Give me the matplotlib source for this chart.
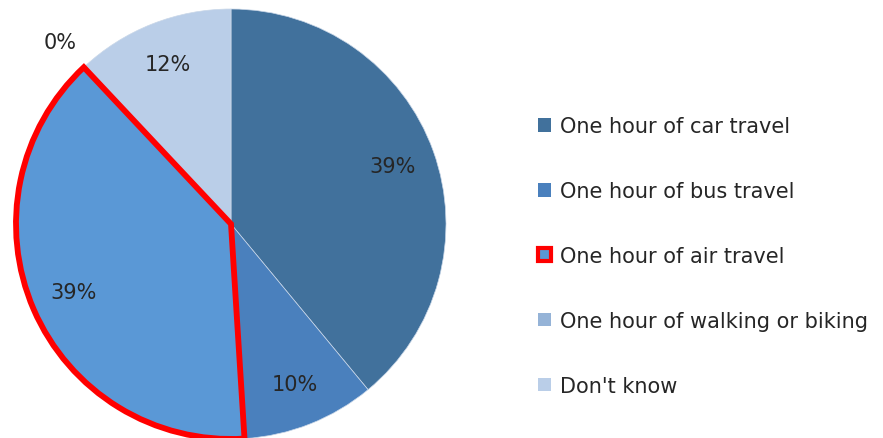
import numpy as np
import matplotlib.pyplot as plt
from matplotlib.patches import Patch

# travel-mode survey shares (%)
LABELS = ["One hour of car travel", "One hour of bus travel", "One hour of air travel",
          "One hour of walking or biking", "Don't know"]
SHARES = [39, 10, 39, 0, 12]
COLORS = ["#41719C", "#4A80BD", "#5A98D6", "#95B3D7", "#BACEE8"]
HIGHLIGHT = 2  # slice with the red outline
TEXT_COLOR = "#262626"
FONT_SIZE = 15

plt.rcParams["font.family"] = ["DejaVu Sans"]

W, H = 883, 439
fig = plt.figure(figsize=(W / 100, H / 100), dpi=100)

# pie axes placed in pixel units: centre (231, 225), radius 215
cx, cy, r = 231, 225, 215
ax = fig.add_axes([(cx - r) / W, 1 - (cy + r) / H, 2 * r / W, 2 * r / H])

wedges, texts, autotexts = ax.pie(
    SHARES, colors=COLORS, startangle=90, counterclock=False, radius=1,
    autopct=lambda p: f"{p:.0f}%", pctdistance=0.8,
    wedgeprops=dict(edgecolor="#c9d7e8", linewidth=0.5),
    textprops=dict(fontsize=FONT_SIZE, color=TEXT_COLOR),
)
ax.set_xlim(-1, 1)
ax.set_ylim(-1, 1)
ax.set_aspect("equal")
ax.axis("off")

# red outline on the highlighted slice, drawn on top
wedges[HIGHLIGHT].set_edgecolor("red")
wedges[HIGHLIGHT].set_linewidth(4.2)
wedges[HIGHLIGHT].set_zorder(5)

# zero-share label sits just outside the rim
for w, t, v in zip(wedges, autotexts, SHARES):
    if v == 0:
        ang = np.deg2rad(w.theta1)
        t.set_position((1.16 * np.cos(ang), 1.16 * np.sin(ang)))
    t.set_zorder(6)

handles = []
for i, (lab, col) in enumerate(zip(LABELS, COLORS)):
    if i == HIGHLIGHT:
        handles.append(Patch(facecolor=col, edgecolor="red", linewidth=3, label=lab))
    else:
        handles.append(Patch(facecolor=col, edgecolor="none", label=lab))

fig.legend(handles=handles, loc="center left", bbox_to_anchor=(538 / W, 1 - 257 / H),
           frameon=False, fontsize=FONT_SIZE, labelcolor=TEXT_COLOR, handlelength=0.62,
           handleheight=0.62, handletextpad=0.43, labelspacing=2.15, borderpad=0,
           borderaxespad=0)

fig.savefig("out.png", dpi=100)
